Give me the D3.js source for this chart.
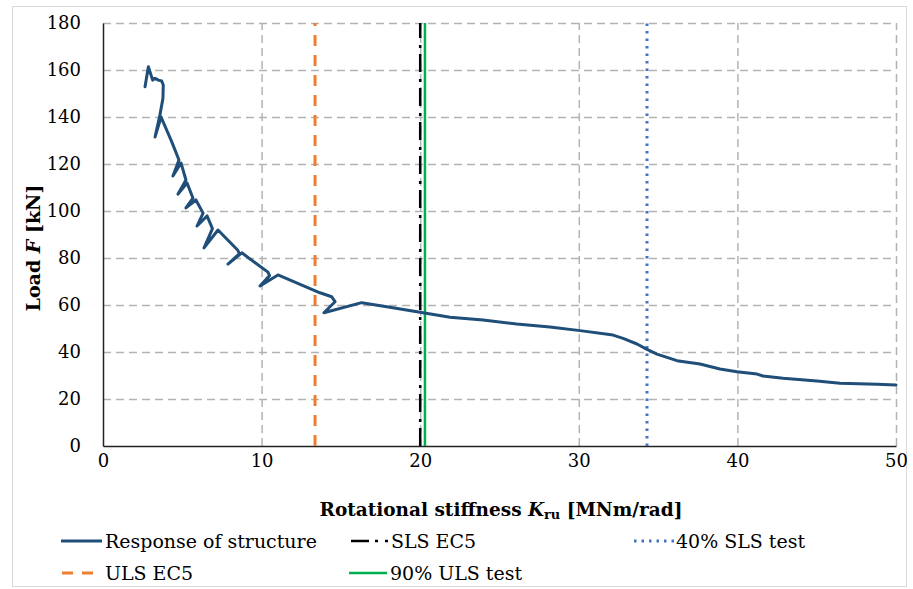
<!DOCTYPE html>
<html>
<head>
<meta charset="utf-8">
<script src="https://cdn.jsdelivr.net/npm/d3@7"></script>
<style>
  html, body { margin: 0; padding: 0; background: #fff; }
  svg { display: block; }
  text { font-family: "DejaVu Serif", "Liberation Serif", serif; fill: #000; }
</style>
</head>
<body>
<svg id="chart" width="913" height="589"></svg>
<script>
// ---------------- DATA ----------------
const xTickValues = [0, 10, 20, 30, 40, 50];
const yTickValues = [0, 20, 40, 60, 80, 100, 120, 140, 160, 180];

// Response of structure: rotational stiffness K_ru [MNm/rad] vs load F [kN]
const responseK = [
  2.65, 2.86, 3.13, 3.28, 3.49, 3.70, 3.80, 3.78,
  3.59, 3.28, 3.66, 4.33,
  4.79, 4.41, 4.92,
  5.23, 4.73, 5.30,
  5.67, 5.23, 5.86,
  6.31, 5.93, 6.56,
  6.90, 6.37, 7.25,
  8.50, 8.60, 7.88, 8.75,
  10.40, 10.50, 9.90, 11.03,
  13.68, 14.42, 14.63, 13.93, 16.31,
  17.89, 19.99, 21.88, 23.96, 26.08, 28.18, 30.08, 32.16, 32.79, 33.67,
  34.30, 34.93, 36.19, 37.64, 38.90, 39.97, 41.24, 41.61, 42.88, 45.02,
  46.47, 48.80, 50.00
];
const responseF = [
  152.9, 161.4, 155.7, 156.5, 155.7, 155.3, 153.6, 148.0,
  140.9, 131.5, 140.0, 129.5,
  121.7, 114.9, 120.4,
  113.2, 107.2, 111.9,
  105.5, 101.3, 104.7,
  99.1, 93.6, 97.9,
  92.5, 84.3, 91.9,
  83.3, 81.8, 77.4, 82.2,
  74.0, 72.5, 68.1, 72.8,
  65.2, 63.5, 61.4, 56.7, 61.0,
  59.3, 56.9, 54.8, 53.6, 51.9, 50.6, 49.1, 47.2, 45.8, 43.4,
  41.1, 39.1, 36.3, 34.9, 32.8, 31.6, 30.6, 29.8, 28.8, 27.7,
  26.7, 26.3, 26.0
];

// Reference stiffness lines
const refNames  = ["SLS EC5", "40% SLS test", "ULS EC5", "90% ULS test"];
const refValues = [20.0, 34.3, 13.37, 20.3];

// ---------------- LAYOUT ----------------
const svg = d3.select("#chart");
const plot = { left: 103, right: 896, top: 23, bottom: 446 };

const x = d3.scaleLinear().domain([0, 50]).range([plot.left, plot.right]);
const y = d3.scaleLinear().domain([0, 180]).range([plot.bottom, plot.top]);

const styles = {
  "Response of structure": { stroke: "#1f4e79", width: 3, dash: null, cap: "round" },
  "SLS EC5":      { stroke: "#000000", width: 2.5, dash: "18,6,3,7", cap: "butt" },
  "40% SLS test": { stroke: "#4472c4", width: 3, dash: "2.5,5", cap: "butt" },
  "ULS EC5":      { stroke: "#ed7d31", width: 3, dash: "11,9", cap: "butt" },
  "90% ULS test": { stroke: "#00b050", width: 2.5, dash: null, cap: "butt" }
};

// outer frame
svg.append("rect")
  .attr("x", 12.5).attr("y", 6.5).attr("width", 894).attr("height", 580)
  .attr("fill", "none").attr("stroke", "#d9d9d9").attr("stroke-width", 1);

// ---------------- GRID ----------------
const gridColor = "#b3b3b3";
const gx = svg.append("g").attr("transform", `translate(0,${plot.bottom})`)
  .call(d3.axisBottom(x).tickValues(xTickValues).tickSize(-(plot.bottom - plot.top)).tickFormat(""));
gx.select(".domain").remove();
gx.selectAll(".tick line").attr("stroke", gridColor).attr("stroke-width", 1.5).attr("stroke-dasharray", "8,5")
  .filter(d => d === 0).remove();

const gy = svg.append("g").attr("transform", `translate(${plot.left},0)`)
  .call(d3.axisLeft(y).tickValues(yTickValues).tickSize(-(plot.right - plot.left)).tickFormat(""));
gy.select(".domain").remove();
gy.selectAll(".tick line").attr("stroke", gridColor).attr("stroke-width", 1.5).attr("stroke-dasharray", "8,5")
  .filter(d => d === 0).remove();

// ---------------- AXES ----------------
const ax = svg.append("g").attr("transform", `translate(0,${plot.bottom})`)
  .call(d3.axisBottom(x).tickValues(xTickValues).tickSize(0).tickPadding(8).tickFormat(d3.format("d")));
ax.select(".domain").attr("stroke", "#222").attr("stroke-width", 1.5);
ax.selectAll("text").attr("font-size", 18).attr("font-family", "DejaVu Serif").attr("fill", "#000").attr("dy", "0.71em");

const ay = svg.append("g").attr("transform", `translate(${plot.left},0)`)
  .call(d3.axisLeft(y).tickValues(yTickValues).tickSize(0).tickPadding(22).tickFormat(d3.format("d")));
ay.select(".domain").attr("stroke", "#222").attr("stroke-width", 1.5);
ay.selectAll("text").attr("font-size", 18).attr("font-family", "DejaVu Serif").attr("fill", "#000");

// ---------------- REFERENCE LINES ----------------
refNames.forEach((name, i) => {
  const s = styles[name];
  svg.append("line")
    .attr("x1", x(refValues[i])).attr("x2", x(refValues[i]))
    .attr("y1", y(0)).attr("y2", y(180))
    .attr("stroke", s.stroke).attr("stroke-width", s.width)
    .attr("stroke-dasharray", s.dash).attr("stroke-linecap", s.cap);
});

// ---------------- RESPONSE CURVE ----------------
const pts = responseK.map((k, i) => [k, responseF[i]]);
const rs = styles["Response of structure"];
svg.append("path")
  .datum(pts)
  .attr("d", d3.line().x(d => x(d[0])).y(d => y(d[1])).curve(d3.curveLinear))
  .attr("fill", "none").attr("stroke", rs.stroke).attr("stroke-width", rs.width)
  .attr("stroke-linejoin", "round").attr("stroke-linecap", "round");

// ---------------- AXIS TITLES ----------------
function fitWidth(sel, target) {
  let fs = +sel.attr("font-size");
  const w = sel.node().getComputedTextLength();
  if (w > 0) sel.attr("font-size", (fs * target / w).toFixed(2));
}

const xt = svg.append("text")
  .attr("x", 501).attr("y", 516).attr("text-anchor", "middle")
  .attr("font-size", 18).attr("font-weight", "bold");
xt.append("tspan").text("Rotational stiffness ");
xt.append("tspan").attr("font-style", "italic").text("K");
xt.append("tspan").attr("font-size", "0.7em").attr("dy", "0.25em").text("ru");
xt.append("tspan").attr("dy", "-0.175em").text(" [MNm/rad]");
fitWidth(xt, 363);

const yt = svg.append("text")
  .attr("transform", "translate(40,248) rotate(-90)").attr("text-anchor", "middle")
  .attr("font-size", 18).attr("font-weight", "bold");
yt.append("tspan").text("Load ");
yt.append("tspan").attr("font-style", "italic").text("F");
yt.append("tspan").text(" [kN]");
fitWidth(yt, 127);

// ---------------- LEGEND ----------------
const legendNames = ["Response of structure", "SLS EC5", "40% SLS test", "ULS EC5", "90% ULS test"];
const legendPos = [
  { x1: 61, x2: 102, tx: 105, y: 541 },
  { x1: 351, x2: 388, tx: 391, y: 541 },
  { x1: 634, x2: 674, tx: 676, y: 541 },
  { x1: 62, x2: 100, tx: 105, y: 573 },
  { x1: 349, x2: 387, tx: 390, y: 573 }
];
const leg = svg.append("g");
const probe = leg.append("text").attr("font-size", 18).text(legendNames[0]);
const pw = probe.node().getComputedTextLength();
const legFs = 18 * 212 / pw;
probe.remove();
legendNames.forEach((name, i) => {
  const s = styles[name], p = legendPos[i];
  leg.append("line")
    .attr("x1", p.x1).attr("x2", p.x2).attr("y1", p.y).attr("y2", p.y)
    .attr("stroke", s.stroke).attr("stroke-width", s.width)
    .attr("stroke-dasharray", s.dash).attr("stroke-linecap", "butt");
  leg.append("text")
    .attr("x", p.tx).attr("y", p.y).attr("dy", "0.35em")
    .attr("font-size", legFs.toFixed(2)).text(name);
});
</script>
</body>
</html>
